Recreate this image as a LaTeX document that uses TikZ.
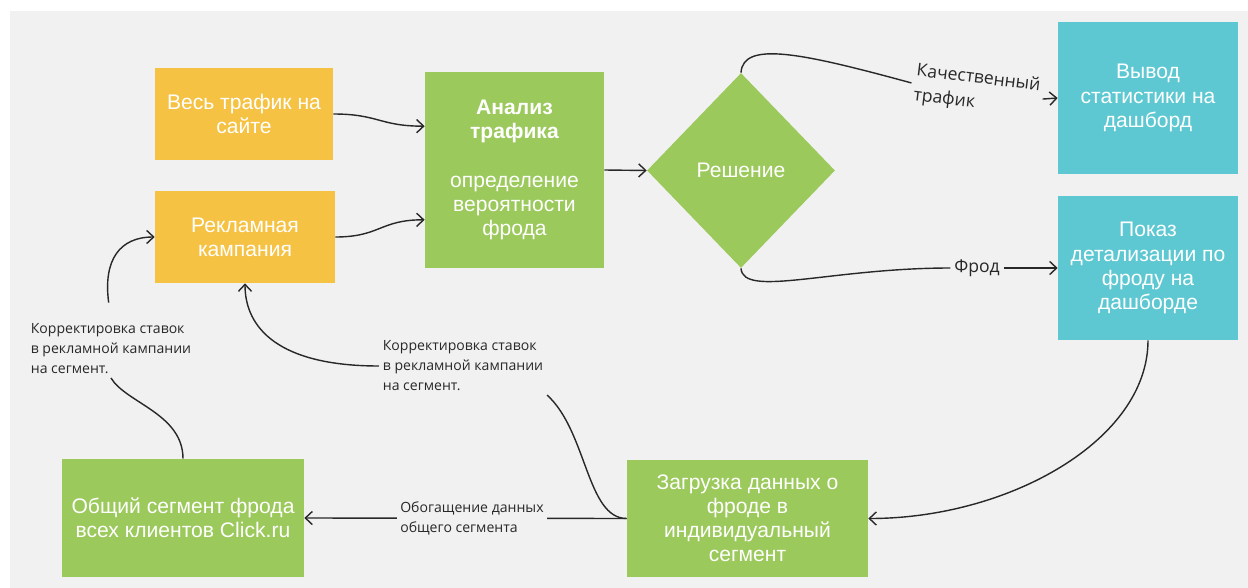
\documentclass[tikz,border=0pt]{standalone}
\usepackage{fontspec}
\setmainfont{Liberation Sans}
\newfontfamily\notefont{Open Sans}
\usetikzlibrary{shapes.geometric,arrows.meta}

\definecolor{bgGray}{RGB}{241,241,241}
\definecolor{boxYellow}{RGB}{246,194,67}
\definecolor{boxGreen}{RGB}{155,201,91}
\definecolor{boxCyan}{RGB}{93,200,210}
\definecolor{lineGray}{RGB}{40,40,40}

\begin{document}
\begin{tikzpicture}[
		x=0.02cm, y=-0.02cm,
		box/.style={rectangle, inner sep=2pt, align=center, text=white, font=\fontsize{12}{13.7}\selectfont},
		yellow box/.style={box, fill=boxYellow},
		green box/.style={box, fill=boxGreen},
		cyan box/.style={box, fill=boxCyan},
		decision/.style={diamond, fill=boxGreen, text=white, inner sep=0pt, font=\fontsize{12}{13.7}\selectfont},
		note/.style={align=left, text=lineGray, inner sep=2pt, font=\notefont\fontsize{8}{11.4}\selectfont},
		big note/.style={note, font=\notefont\fontsize{10}{14}\selectfont},
		flow/.style={lineGray, line width=0.8pt, -{Straight Barb[length=4pt,width=7.5pt]}},
		plain flow/.style={lineGray, line width=0.8pt}
		]
		
		% ---------------------------------------------------------
		% Canvas
		% ---------------------------------------------------------
		\useasboundingbox (0,0) rectangle (1248,588);
		\fill[white] (0,0) rectangle (1248,588);
		\fill[bgGray] (10,11) rectangle (1248,588);
		
		% ---------------------------------------------------------
		% Sources and analysis
		% ---------------------------------------------------------
		\node[yellow box, minimum width=3.56cm, minimum height=1.84cm] (traffic) at (244,114) {Весь трафик на\\сайте};
		\node[yellow box, minimum width=3.6cm, minimum height=1.84cm] (campaign) at (245,237) {Рекламная\\кампания};
		\node[green box, minimum width=3.58cm, minimum height=3.92cm] (analysis) at (514.5,170)
			{\textbf{Анализ}\\\textbf{трафика}\\[13.7pt]определение\\вероятности\\фрода};
		\node[decision, minimum width=3.76cm, minimum height=3.9cm] (decision) at (741,170.5) {Решение};
		
		% ---------------------------------------------------------
		% Dashboards
		% ---------------------------------------------------------
		\node[cyan box, minimum width=3.6cm, minimum height=3.04cm] (stats) at (1148,98) {Вывод\\статистики на\\дашборд};
		\node[cyan box, minimum width=3.6cm, minimum height=2.88cm] (details) at (1148,268) {Показ\\детализации по\\фроду на\\дашборде};
		
		% ---------------------------------------------------------
		% Segments
		% ---------------------------------------------------------
		\node[green box, minimum width=4.82cm, minimum height=2.36cm] (upload) at (747.5,518.5) {Загрузка данных о\\фроде в\\индивидуальный\\сегмент};
		\node[green box, minimum width=4.84cm, minimum height=2.36cm] (common) at (183,518) {Общий сегмент фрода\\всех клиентов Click.ru};
		
		% Connector labels
		\node[big note, rotate=-7] (quality) at (977,91) {Качественный\\трафик};
		\node[big note] (fraud) at (977,268) {Фрод};
		\node[note] (adjustA) at (111,349) {Корректировка ставок\\в рекламной кампании\\на сегмент.};
		\node[note] (adjustB) at (463,366) {Корректировка ставок\\в рекламной кампании\\на сегмент.};
		
		% ---------------------------------------------------------
		% Connectors
		% ---------------------------------------------------------
		\draw[flow] (traffic.east) .. controls +(45,0) and +(-45,0) .. (analysis.154);
		\draw[flow] (campaign.east) .. controls +(45,0) and +(-45,0) .. (analysis.209);
		\draw[flow] (analysis.east) -- (decision.west);
		
		\draw[plain flow] (decision.north) .. controls +(2,-32) and +(-110,-30) .. (quality.west);
		\draw[flow] (quality.east) -- (stats.west);
		\draw[plain flow] (decision.south) .. controls +(2,30) and +(-120,0) .. (fraud.west);
		\draw[flow] (fraud.east) -- (details.west);
		
		\draw[flow] (details.south) .. controls +(0,100) and +(140,0) .. (upload.east);
		\draw[flow] (upload.west) -- node[note, fill=bgGray, pos=0.48] (enrich) {Обогащение данных\\общего сегмента} (common.east);
		
		\draw[plain flow] (upload.west) .. controls +(-40,0) and +(40,36) .. (adjustB.south east);
		\draw[flow] (adjustB.west) .. controls +(-100,0) and +(0,45) .. (campaign.south);
		\draw[plain flow] (common.north) .. controls +(0,-45) and +(15,25) .. (adjustA.south);
		\draw[flow, shorten <=10pt] (adjustA.north) .. controls +(-8,-60) and +(-35,0) .. (campaign.west);
		
	\end{tikzpicture}
\end{document}
